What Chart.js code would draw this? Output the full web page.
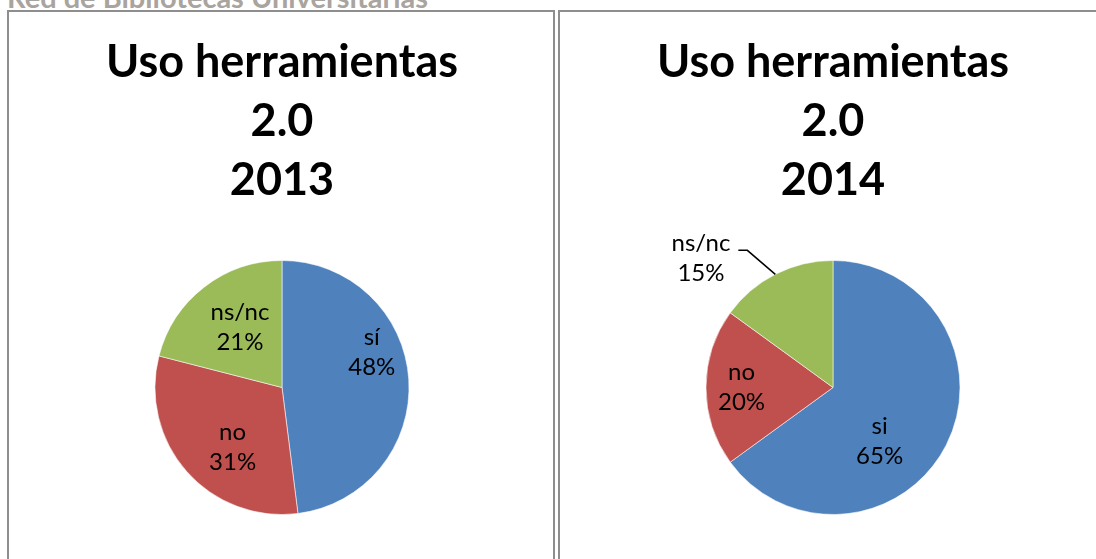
<!DOCTYPE html>
<html>
<head>
<meta charset="utf-8">
<script src="https://cdn.jsdelivr.net/npm/chart.js@4"></script>
<style>
  body {
    margin: 0;
    background: #fff;
    width: 1096px;
    height: 559px;
    overflow: hidden;
    position: relative;
    font-family: Lato, sans-serif;
  }
  .header {
    position: absolute;
    left: 7px;
    top: -18px;
    font: bold 29px/29px Lato, sans-serif;
    color: #aaa49e;
    white-space: nowrap;
  }
  .panel {
    position: absolute;
    top: 10px;
    height: 570px;
    border: 2px solid #8e8e8e;
    box-sizing: border-box;
  }
  canvas {
    position: absolute;
  }
</style>
</head>
<body>
<div class="header">Red de Bibliotecas Universitarias</div>
<div class="panel" style="left:7px;width:548px"></div>
<div class="panel" style="left:558px;width:560px"></div>
<canvas id="chart2013" width="544" height="547" style="left:9px;top:12px"></canvas>
<canvas id="chart2014" width="536" height="547" style="left:560px;top:12px"></canvas>

<script>
// data
const categories2013 = ["sí", "no", "ns/nc"];
const values2013 = [48, 31, 21];
const titleLines2013 = ["Uso herramientas", "2.0", "2013"];

const categories2014 = ["si", "no", "ns/nc"];
const values2014 = [65, 20, 15];
const titleLines2014 = ["Uso herramientas", "2.0", "2014"];

const sliceColors = ["#4f81bd", "#c0504d", "#9bbb59"];

// where each data label sits (fraction of radius, angle nudge in degrees)
const labelPlace2013 = [
  { frac: 0.76, shift: -18 },
  { frac: 0.61, shift: -9 },
  { frac: 0.58, shift: 3 },
];
// last one sits outside with a leader line: elbow offset from the slice edge
const labelPlace2014 = [
  { frac: 0.56, shift: 22 },
  { frac: 0.72, shift: 0 },
  { outside: true, dx: -28, dy: -24, tail: 9, gap: 8 },
];

// -------- label plugin --------

const pieLabels = {
  id: "pieLabels",
  afterDatasetsDraw(chart, args, opts) {
    const ctx = chart.ctx;
    const meta = chart.getDatasetMeta(0);
    const ds = chart.data.datasets[0];
    const pitch = 30;

    ctx.save();
    ctx.font = "24px Lato, sans-serif";
    ctx.fillStyle = "#000";
    ctx.textAlign = "center";
    ctx.textBaseline = "middle";

    meta.data.forEach((arc, i) => {
      const p = opts.placement[i];
      const { x, y, startAngle, endAngle, outerRadius } = arc.getProps(
        ["x", "y", "startAngle", "endAngle", "outerRadius"],
        true
      );
      const mid = (startAngle + endAngle) / 2;
      const lines = [chart.data.labels[i], ds.data[i] + "%"];

      if (p.outside) {
        const ex = x + Math.cos(mid) * outerRadius;
        const ey = y + Math.sin(mid) * outerRadius;
        const kx = ex + p.dx;
        const ky = ey + p.dy;
        const tx = kx - p.tail;

        ctx.strokeStyle = "#000";
        ctx.lineWidth = 1.5;
        ctx.beginPath();
        ctx.moveTo(ex, ey);
        ctx.lineTo(kx, ky);
        ctx.lineTo(tx, ky);
        ctx.stroke();

        const w = Math.max(...lines.map((t) => ctx.measureText(t).width));
        const cx = tx - p.gap - w / 2;
        ctx.fillText(lines[0], cx, ky - 7);
        ctx.fillText(lines[1], cx, ky - 7 + pitch);
      } else {
        const a = mid + (p.shift * Math.PI) / 180;
        const cx = x + Math.cos(a) * outerRadius * p.frac;
        const cy = y + Math.sin(a) * outerRadius * p.frac;
        ctx.fillText(lines[0], cx, cy - pitch / 2);
        ctx.fillText(lines[1], cx, cy + pitch / 2);
      }
    });
    ctx.restore();
  },
};

// -------- pie charts --------

function makePie(canvasId, labels, values, titleLines, placement, padLeft) {
  return new Chart(document.getElementById(canvasId), {
    type: "pie",
    data: {
      labels: labels,
      datasets: [
        {
          data: values,
          backgroundColor: sliceColors,
          borderColor: "rgba(255,255,255,0.55)",
          borderWidth: 1,
          hoverOffset: 0,
        },
      ],
    },
    options: {
      responsive: false,
      animation: false,
      devicePixelRatio: 1,
      layout: {
        padding: { left: padLeft, right: 0, top: 0, bottom: 44 },
      },
      plugins: {
        legend: { display: false },
        tooltip: { enabled: false },
        title: {
          display: true,
          text: titleLines,
          color: "#000",
          font: { family: "Lato, sans-serif", size: 45, weight: "bold", lineHeight: 1.311 },
          padding: { top: 20.5, bottom: 50.5 },
        },
        pieLabels: { placement: placement },
      },
    },
    plugins: [pieLabels],
  });
}

makePie("chart2013", categories2013, values2013, titleLines2013, labelPlace2013, 2);
makePie("chart2014", categories2014, values2014, titleLines2014, labelPlace2014, 10);
</script>
</body>
</html>
